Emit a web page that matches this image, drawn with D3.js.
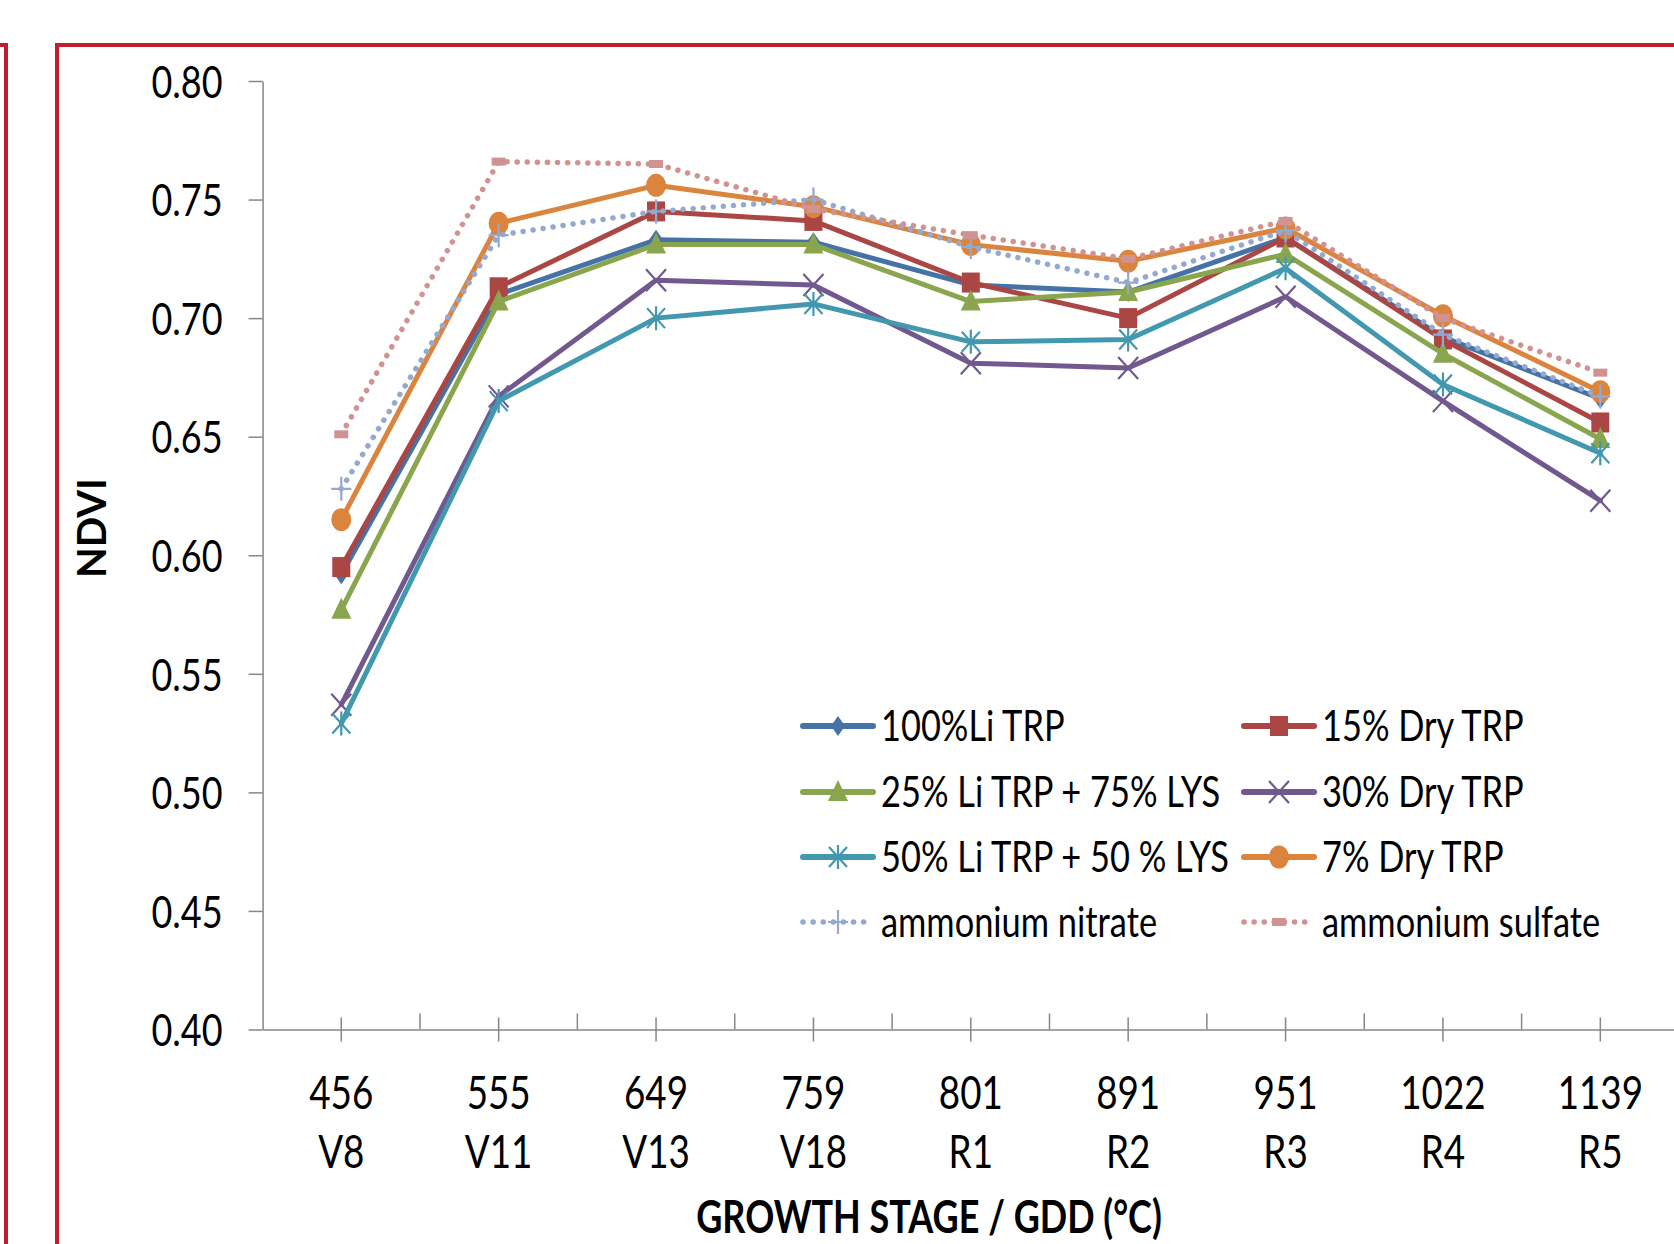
<!DOCTYPE html>
<html><head><meta charset="utf-8">
<script src="https://cdn.jsdelivr.net/npm/d3@7"></script>
<style>body{margin:0;background:#fff;overflow:hidden} svg{display:block}</style>
</head><body>
<svg id="c" width="1674" height="1244"></svg>
<script>
// ---- data ----
const categories = ["456","555","649","759","801","891","951","1022","1139"];
const stages = ["V8","V11","V13","V18","R1","R2","R3","R4","R5"];
const yTicks = [0.40,0.45,0.50,0.55,0.60,0.65,0.70,0.75,0.80];
const seriesNames = ["100%Li TRP","15% Dry TRP","25% Li TRP + 75% LYS","30% Dry TRP","50% Li TRP + 50 % LYS","7% Dry TRP","ammonium nitrate","ammonium sulfate"];
const li100   = [0.592,0.710,0.733,0.732,0.714,0.711,0.734,0.692,0.666];
const dry15   = [0.595,0.713,0.745,0.741,0.715,0.700,0.734,0.691,0.656];
const li25lys75 = [0.577,0.707,0.731,0.731,0.707,0.711,0.727,0.685,0.649];
const dry30   = [0.537,0.667,0.716,0.714,0.681,0.679,0.709,0.665,0.623];
const li50lys50 = [0.529,0.665,0.700,0.706,0.690,0.691,0.721,0.672,0.643];
const dry7    = [0.615,0.740,0.756,0.747,0.731,0.724,0.738,0.701,0.669];
const ammNitrate = [0.628,0.735,0.745,0.750,0.730,0.715,0.737,0.693,0.667];
const ammSulfate = [0.651,0.766,0.765,0.746,0.735,0.725,0.741,0.700,0.677];

const seriesValues = [li100,dry15,li25lys75,dry30,li50lys50,dry7,ammNitrate,ammSulfate];
const colors = ["#4572A7","#AA4643","#89A54E","#71588F","#4198AF","#DB843D","#93A9CF","#D19392"];
const markers = ["diamond","square","triangle","x","star","circle","plus","dash"];
const dotted = [false,false,false,false,false,false,true,true];

// ---- layout ----
const svg = d3.select("#c");
const FONT = "Lato, 'Open Sans', sans-serif";
const SX = 0.8; // horizontal compression of text
const x = d3.scaleBand().domain(categories).range([262.6, 1679]).padding(0);
const cx = c => x(c) + x.bandwidth()/2;
const y = d3.scaleLinear().domain([0.40,0.80]).range([1029.5, 81]);

// frames
svg.append("rect").attr("x",-20).attr("y",45).attr("width",26).attr("height",1300)
  .attr("fill","none").attr("stroke","#BE1E2D").attr("stroke-width",4);
svg.append("rect").attr("x",57).attr("y",45).attr("width",1700).attr("height",1300)
  .attr("fill","none").attr("stroke","#BE1E2D").attr("stroke-width",4);

const axisColor = "#868686";
// y axis
const gy = svg.append("g").attr("transform","translate(262.6,0)")
  .call(d3.axisLeft(y).tickValues(yTicks).tickSize(14).tickSizeOuter(0).tickFormat(d3.format(".2f")));
gy.select(".domain").attr("stroke",axisColor).attr("stroke-width",1.5);
gy.selectAll(".tick line").attr("stroke",axisColor).attr("stroke-width",1.5);
gy.selectAll(".tick text").attr("x",null).attr("dy","0.36em")
  .attr("transform",`translate(-40,0) scale(${SX},1)`)
  .attr("font-family",FONT).attr("font-size",45).attr("fill","#000").attr("text-anchor","end");

// x axis
const gx = svg.append("g").attr("transform","translate(0,1029.5)")
  .call(d3.axisBottom(x).tickSize(12).tickSizeOuter(0).tickFormat(""));
gx.select(".domain").attr("stroke",axisColor).attr("stroke-width",1.5);
gx.selectAll(".tick line").attr("y1",-12).attr("y2",12).attr("stroke",axisColor).attr("stroke-width",1.5);
gx.selectAll(".bound").data(categories.slice(1)).join("line").attr("class","bound")
  .attr("x1",d=>x(d)).attr("x2",d=>x(d)).attr("y1",-16).attr("y2",0)
  .attr("stroke",axisColor).attr("stroke-width",1.5);
gx.selectAll(".xl1").data(categories).join("text").attr("class","xl1")
  .attr("transform",d=>`translate(${cx(d)},79) scale(${SX},1)`).attr("fill","#000")
  .attr("text-anchor","middle").attr("font-family",FONT).attr("font-size",46).text(d=>d);
gx.selectAll(".xl2").data(stages).join("text").attr("class","xl2")
  .attr("transform",(d,i)=>`translate(${cx(categories[i])},138) scale(${SX},1)`).attr("fill","#000")
  .attr("text-anchor","middle").attr("font-family",FONT).attr("font-size",46).text(d=>d);

// axis titles
svg.append("text").attr("transform",`translate(929,1233) scale(${SX},1)`)
  .attr("text-anchor","middle").attr("font-family",FONT).attr("font-weight","bold")
  .attr("font-size",45).text("GROWTH STAGE / GDD (°C)");
svg.append("text").attr("transform","translate(106,528) rotate(-90)")
  .attr("text-anchor","middle").attr("font-family",FONT).attr("font-weight","bold")
  .attr("font-size",40).text("NDVI");

// marker drawing
function drawMarker(g, type, color){
  switch(type){
    case "diamond": g.append("path").attr("d","M0,-10L7,0L0,10L-7,0Z").attr("fill",color); break;
    case "square": g.append("rect").attr("x",-9).attr("y",-10).attr("width",18).attr("height",20).attr("fill",color); break;
    case "triangle": g.append("path").attr("d","M0,-12L10,9L-10,9Z").attr("fill",color); break;
    case "x": g.append("path").attr("d","M-10,-11L10,11M-10,11L10,-11").attr("stroke",color).attr("stroke-width",2.2).attr("fill","none"); break;
    case "star": g.append("path").attr("d","M-9,-10L9,10M-9,10L9,-10M0,-12L0,12").attr("stroke",color).attr("stroke-width",2.2).attr("fill","none"); break;
    case "circle": g.append("ellipse").attr("rx",10).attr("ry",11.5).attr("fill",color); break;
    case "plus": g.append("path").attr("d","M-10,0L10,0M0,-12L0,12").attr("stroke",color).attr("stroke-width",2.2).attr("fill","none"); break;
    case "dash": g.append("rect").attr("x",-7).attr("y",-4).attr("width",14).attr("height",8).attr("fill",color); break;
  }
}

const line = d3.line().x((d,i)=>cx(categories[i])).y(d=>y(d));
const plot = svg.append("g");
seriesValues.forEach((vals,si)=>{
  const p = plot.append("path").datum(vals).attr("d",line).attr("fill","none")
    .attr("stroke",colors[si]).attr("stroke-linejoin","round");
  if(dotted[si]) p.attr("stroke-width",5.5).attr("stroke-dasharray","0.1 10").attr("stroke-linecap","round");
  else p.attr("stroke-width",5).attr("stroke-linecap","round");
  vals.forEach((v,i)=>{
    const g = plot.append("g").attr("transform",`translate(${cx(categories[i])},${y(v)})`);
    drawMarker(g, markers[si], colors[si]);
  });
});

// legend
const legRows = [726, 792, 857, 922];
const legCols = [803, 1244];
seriesNames.forEach((name,si)=>{
  const col = si%2, row = Math.floor(si/2);
  const lx = legCols[col], ly = legRows[row];
  const g = svg.append("g");
  const l = g.append("line").attr("x1",lx).attr("x2",lx+70).attr("y1",ly).attr("y2",ly).attr("stroke",colors[si]);
  if(dotted[si]) l.attr("stroke-width",5.5).attr("stroke-dasharray","0.1 10").attr("stroke-linecap","round");
  else l.attr("stroke-width",6).attr("stroke-linecap","round");
  const m = g.append("g").attr("transform",`translate(${lx+35},${ly})`);
  drawMarker(m, markers[si], colors[si]);
  g.append("text").attr("transform",`translate(${lx+78},${ly+15}) scale(${SX},1)`)
    .attr("font-family",FONT).attr("font-size",43).text(name);
});
</script>
</body></html>
